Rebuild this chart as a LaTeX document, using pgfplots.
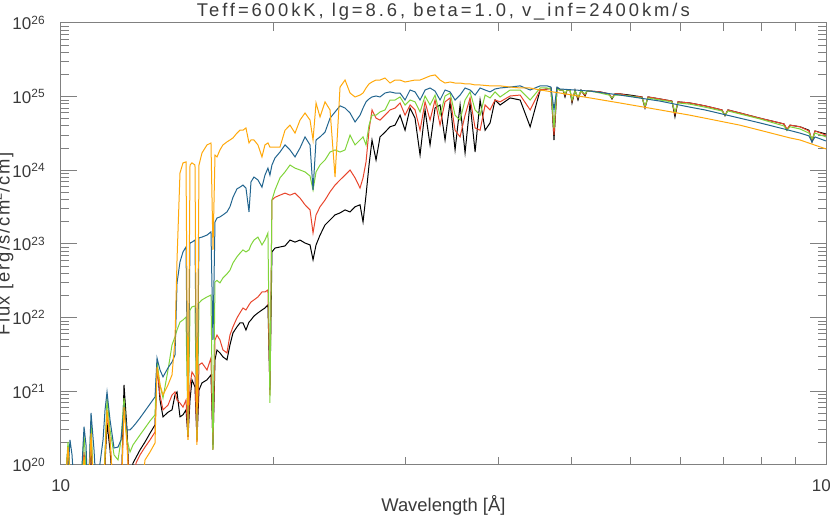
\documentclass[border=0pt]{standalone}
\usepackage{fontspec}
\setmainfont{Liberation Sans}
\usepackage{pgfplots}
\usepackage{pgfplotstable}
\pgfplotsset{compat=1.18}

\definecolor{cblue}{HTML}{22658F}
\definecolor{cred}{HTML}{E8452C}
\definecolor{cgreen}{HTML}{80D43A}
\definecolor{corange}{HTML}{FFA80A}
\definecolor{axgray}{HTML}{808080}
\definecolor{txtgray}{HTML}{3A3A3A}

% flux spectra, wavelength in Angstrom, flux in erg/s/cm2/cm
\pgfplotstableread{
lam F
10.345 3e19
10.473 3e19
10.603 1.75e20
10.735 3e19
11.003 3e19
11.140 1.37e20
11.278 3e19
11.383 1.75e20
11.488 3e19
11.812 3e19
11.958 3.7e20
12.069 1.6e20
12.219 3e19
12.485 3e19
12.601 1.22e21
12.718 3.0e20
12.836 3e19
12.955 1.06e20
13.238 1.6e20
13.444 2.05e20
13.653 2.7e20
13.865 3.5e20
13.951 2.43e21
14.080 7.6e20
14.211 4.5e20
14.432 5.2e20
14.611 5.6e20
14.746 8.9e20
14.838 9.8e20
14.975 4.5e20
15.114 4.8e20
15.255 5.6e20
15.349 2.4e20
15.444 7.6e20
15.539 1.43e21
15.683 1.15e21
15.780 2.19e20
15.878 1.04e21
16.025 1.30e21
16.274 1.43e21
16.476 1.67e21
16.578 1.87e20
16.681 2.67e21
16.784 3.64e21
16.938 3.32e21
17.096 2.93e21
17.308 2.67e21
17.469 4.26e21
17.631 6.2e21
17.850 7.5e21
18.016 8.47e21
18.184 8.47e21
18.353 6.8e21
18.524 8.7e21
18.638 9.3e21
18.811 1.05e22
19.044 1.16e22
19.280 1.27e22
19.460 1.35e22
19.641 1.49e22
19.762 1.04e21
19.884 7.8e22
20.069 8.8e22
20.381 9.1e22
20.698 9.4e22
21.020 1.13e23
21.347 1.06e23
21.679 1.13e23
22.016 1.03e23
22.358 9.7e22
22.566 6.1e22
22.776 9.7e22
23.058 1.32e23
23.416 1.81e23
23.780 2.12e23
24.150 2.48e23
24.525 2.64e23
24.906 2.9e23
25.293 2.72e23
25.686 3.2e23
26.085 3.4e23
26.327 1.99e23
26.571 4.6e23
26.818 1.18e24
27.067 2.58e24
27.403 1.38e24
27.743 2.84e24
28.174 3.3e24
28.612 3.9e24
29.057 4.1e24
29.509 5.6e24
29.967 3.5e24
30.433 7.0e24
30.906 5.1e24
31.386 1.61e24
31.874 6.6e24
32.370 2.21e24
32.873 7.0e24
33.384 7.7e24
33.903 2.58e24
34.430 8.5e24
34.965 1.89e24
35.509 7.7e24
36.061 1.72e24
36.621 8.2e24
37.191 1.77e24
37.769 9.0e24
38.356 3.5e24
38.952 4.4e24
39.557 9.0e24
40.172 7.7e24
41.431 9.6e24
42.730 9.0e24
44.069 3.9e24
45.451 1.23e25
46.416 1.27e25
46.99 1.31e25
47.428 2.58e24
47.87 1.31e25
48.314 1.23e25
48.765 1.23e25
49.065 9.9e24
49.370 1.23e25
49.829 1.23e25
50.137 8.2e24
50.604 1.23e25
51.073 9.0e24
51.546 1.23e25
52.187 1.02e25
52.508 1.19e25
52.998 1.19e25
54.659 1.16e25
56.195 1.09e25
56.715 9.3e24
57.240 1.09e25
58.130 1.09e25
59.948 1.05e25
62.211 9.9e24
62.787 7.0e24
63.370 9.9e24
65.756 9.3e24
68.234 8.7e24
68.866 5.3e24
69.508 8.5e24
72.122 8.2e24
75.533 7.5e24
79.599 6.6e24
80.336 5.5e24
81.077 6.6e24
84.139 6.0e24
89.47 5.1e24
96.37 4.26e24
97.26 3.5e24
98.17 4.1e24
101.24 3.9e24
104.09 3.5e24
105.06 2.43e24
106.03 3.42e24
109.69 3.11e24
}\tblk

\pgfplotstableread{
lam F
10.345 3e19
10.473 3e19
10.603 1.6e20
10.735 3e19
11.003 3e19
11.140 1.5e20
11.278 3e19
11.383 2.19e20
11.488 3e19
11.812 3e19
11.958 5.2e20
12.069 2.19e20
12.219 3e19
12.485 3e19
12.601 6.95e20
12.718 2.19e20
12.836 3e19
12.955 3e19
13.076 1.06e20
13.238 1.37e20
13.444 1.75e20
13.653 2.19e20
13.865 2.8e20
13.951 2.14e21
14.080 8.9e20
14.211 5.6e20
14.432 6.5e20
14.611 8.9e20
14.746 9.8e20
14.838 7.6e20
14.975 6.95e20
15.114 6.1e20
15.255 7.6e20
15.349 2.4e20
15.444 1.22e21
15.539 1.83e21
15.683 1.57e21
15.780 2.05e20
15.878 2.28e21
16.025 2.43e21
16.274 1.95e21
16.476 2.83e21
16.578 1.6e20
16.681 4.98e21
16.784 5.8e21
16.938 4.98e21
17.096 3.64e21
17.308 3.32e21
17.469 5.8e21
17.631 7.5e21
17.850 9.9e21
18.016 1.16e22
18.184 1.35e22
18.353 1.27e22
18.524 1.49e22
18.638 1.63e22
18.811 1.74e22
19.044 1.91e22
19.280 2.23e22
19.460 2.23e22
19.641 2.38e22
19.762 8.9e20
19.884 3.95e23
20.069 4.3e23
20.381 4.6e23
20.698 4.9e23
21.020 4.6e23
21.347 4.9e23
21.679 4.2e23
22.016 3.4e23
22.358 2.9e23
22.566 1.41e23
22.776 2.48e23
23.058 3.2e23
23.416 3.95e23
23.780 5.1e23
24.150 6.3e23
24.525 7.4e23
24.906 8.6e23
25.293 1.01e24
25.686 7.9e23
26.085 5.75e23
26.327 7.9e23
26.571 1.30e24
26.818 3.5e24
27.067 6.6e24
27.403 5.1e24
27.743 4.8e24
28.174 5.6e24
28.612 6.6e24
29.057 7.0e24
29.509 8.2e24
29.967 5.6e24
30.433 7.7e24
30.906 6.6e24
31.386 3.5e24
31.874 8.5e24
32.370 4.8e24
32.873 9.0e24
33.384 4.1e24
33.903 8.5e24
34.430 9.6e24
34.965 3.5e24
35.509 2.84e24
36.061 5.6e24
36.621 9.6e24
37.191 3.76e24
37.769 3.5e24
38.356 7.7e24
38.952 6.6e24
39.557 9.0e24
40.172 8.5e24
41.431 1.02e25
42.730 1.05e25
44.069 6.6e24
45.451 1.23e25
46.416 1.27e25
46.99 1.27e25
47.428 3.0e24
47.87 1.27e25
48.314 1.23e25
48.765 1.23e25
49.065 1.05e25
49.370 1.23e25
49.829 1.23e25
50.137 8.7e24
50.604 1.19e25
51.073 9.6e24
51.546 1.19e25
52.187 1.05e25
52.508 1.19e25
52.998 1.19e25
54.659 1.16e25
56.195 1.09e25
56.715 9.6e24
57.240 1.09e25
58.130 1.09e25
59.948 1.02e25
62.211 9.9e24
62.787 7.2e24
63.370 9.9e24
65.756 9.3e24
68.234 8.7e24
68.866 5.82e24
69.508 8.5e24
72.122 8.2e24
75.533 7.5e24
79.599 6.6e24
80.336 5.6e24
81.077 6.6e24
84.139 6.0e24
89.47 5.1e24
96.37 4.26e24
97.26 3.64e24
98.17 4.1e24
101.24 3.9e24
104.09 3.42e24
105.06 2.58e24
106.03 3.42e24
109.69 3.0e24
}\tred

\pgfplotstableread{
lam F
10.345 3e19
10.473 3e19
10.603 2.05e20
10.735 3e19
11.003 3e19
11.140 2.56e20
11.278 3e19
11.383 4.1e20
11.488 3e19
11.812 3e19
11.958 8.1e20
12.069 3.0e20
12.219 1.37e20
12.370 1.17e20
12.485 2.19e20
12.601 8.1e20
12.718 2.19e20
12.836 1.5e20
12.955 1.87e20
13.238 2.56e20
13.444 3.18e20
13.653 3.96e20
13.865 4.8e20
13.951 2.5e21
14.080 1.22e21
14.211 8.1e20
14.432 1.95e21
14.611 4.26e21
14.746 5.5e21
14.838 6.8e21
14.975 8.7e21
15.114 9.3e21
15.255 1.02e22
15.349 2.56e20
15.444 1.27e22
15.539 1.40e22
15.683 1.44e22
15.780 2.19e20
15.878 1.58e22
16.025 1.74e22
16.274 1.91e22
16.476 2.03e22
16.578 1.6e20
16.681 3.05e22
16.784 3.2e22
16.938 2.96e22
17.096 3.46e22
17.308 3.92e22
17.469 4.4e22
17.631 5.52e22
17.850 6.7e22
18.016 7.5e22
18.184 8.3e22
18.353 7.8e22
18.524 8.3e22
18.638 9.7e22
18.811 1.13e23
19.044 1.24e23
19.280 9.7e22
19.460 1.13e23
19.641 1.41e23
19.762 6.95e20
19.884 3.95e23
20.069 5.4e23
20.381 7.9e23
20.698 9.5e23
21.020 1.18e24
21.347 1.07e24
21.679 1.01e24
22.016 9.5e23
22.358 8.38e23
22.566 5.4e23
22.776 9.5e23
23.058 1.18e24
23.416 1.38e24
23.780 1.77e24
24.150 1.89e24
24.525 1.77e24
24.906 1.89e24
25.293 3.0e24
25.686 2.21e24
26.085 2.58e24
26.327 2.84e24
26.571 2.21e24
26.818 4.1e24
27.067 5.6e24
27.403 5.6e24
27.743 6.19e24
28.174 6.6e24
28.612 9.0e24
29.057 9.0e24
29.509 9.9e24
29.967 7.7e24
30.433 9.0e24
30.906 8.5e24
31.386 6.19e24
31.874 1.02e25
32.370 7.7e24
32.873 1.05e25
33.384 5.6e24
33.903 1.02e25
34.430 1.12e25
34.965 5.6e24
35.509 4.8e24
36.061 9.0e24
36.621 1.16e25
37.191 6.6e24
37.769 5.6e24
38.356 1.05e25
38.952 9.6e24
39.557 1.16e25
40.172 9.9e24
41.431 1.23e25
42.730 1.23e25
44.069 9.0e24
45.451 1.31e25
46.416 1.31e25
46.99 1.27e25
47.428 3.76e24
47.87 1.27e25
48.314 1.23e25
48.765 1.23e25
49.065 1.09e25
49.370 1.23e25
49.829 1.23e25
50.137 9.0e24
50.604 1.19e25
51.073 9.9e24
51.546 1.19e25
52.187 1.09e25
52.508 1.19e25
52.998 1.19e25
54.659 1.12e25
56.195 1.05e25
56.715 9.6e24
57.240 1.05e25
58.130 1.05e25
59.948 1.02e25
62.211 9.6e24
62.787 7.5e24
63.370 9.6e24
65.756 9.0e24
68.234 8.5e24
68.866 6.19e24
69.508 8.2e24
72.122 7.9e24
75.533 7.2e24
79.599 6.39e24
80.336 5.6e24
81.077 6.39e24
84.139 5.82e24
89.47 4.98e24
96.37 4.0e24
97.26 3.5e24
98.17 3.9e24
101.24 3.64e24
104.09 3.2e24
105.06 2.66e24
106.03 3.2e24
109.69 2.84e24
}\tgrn

\pgfplotstableread{
lam F
10.345 3e19
10.538 3e19
10.668 2.19e20
10.735 1.37e20
10.834 3e19
11.003 3e19
11.140 3.3e20
11.209 1.87e20
11.278 3e19
11.383 5.1e20
11.488 1.6e20
11.595 3e19
11.703 1.06e20
11.812 2.19e20
11.885 5.6e20
11.958 9.8e20
12.069 4.1e20
12.219 1.7e20
12.370 1.75e20
12.485 2.19e20
12.601 6.1e20
12.718 3.0e20
12.836 3.0e20
12.955 3.3e20
13.076 3.7e20
13.238 4.35e20
13.444 5.41e20
13.653 6.74e20
13.865 8.4e20
13.951 2.83e21
14.080 1.95e21
14.211 1.57e21
14.432 2.08e21
14.611 2.5e21
14.746 3.11e21
14.838 2.96e22
14.975 5.7e22
15.114 7.8e22
15.255 9.1e22
15.349 4.1e20
15.444 1.03e23
15.539 1.06e23
15.683 1.13e23
15.780 3.0e20
15.878 1.21e23
16.025 1.24e23
16.274 1.32e23
16.476 1.46e23
16.578 4.98e21
16.681 1.99e23
16.784 2.25e23
16.938 2.33e23
17.096 2.48e23
17.308 2.72e23
17.469 3.2e23
17.631 4.3e23
17.850 5.6e23
18.016 5.9e23
18.184 6.3e23
18.353 5.75e23
18.524 2.72e23
18.638 6.95e23
18.811 8.1e23
19.044 7.4e23
19.280 5.9e23
19.460 8.6e23
19.641 1.07e24
19.762 8.6e23
19.884 1.18e24
20.069 1.47e24
20.381 1.77e24
20.698 2.21e24
21.020 1.89e24
21.347 1.52e24
21.679 2.01e24
22.016 2.84e24
22.358 2.21e24
22.566 5.4e23
22.776 2.58e24
23.058 2.84e24
23.416 3.3e24
23.780 5.1e24
24.150 6.19e24
24.525 7.5e24
24.906 7.0e24
25.293 6.0e24
25.686 4.53e24
26.085 5.6e24
26.327 7.0e24
26.571 8.5e24
26.818 9.3e24
27.067 9.9e24
27.403 1.02e25
27.743 9.9e24
28.174 1.12e25
28.612 1.16e25
29.057 1.12e25
29.509 1.12e25
29.967 9.0e24
30.433 1.23e25
30.906 1.16e25
31.386 9.0e24
31.874 1.23e25
32.370 1.31e25
32.873 1.19e25
33.384 9.0e24
33.903 1.23e25
34.430 1.16e25
34.965 9.0e24
35.509 1.05e25
36.061 1.31e25
36.621 1.23e25
37.191 1.05e25
37.769 1.31e25
38.356 1.23e25
38.952 1.16e25
39.557 1.27e25
40.172 1.31e25
41.431 1.35e25
42.730 1.40e25
44.069 1.23e25
45.451 1.40e25
46.416 1.40e25
46.99 1.35e25
47.428 6.6e24
47.87 1.35e25
48.314 1.27e25
52.998 1.19e25
58.130 1.05e25
65.756 8.7e24
72.122 7.2e24
75.533 6.6e24
84.139 5.1e24
89.47 4.4e24
96.37 3.64e24
101.24 3.2e24
104.09 2.93e24
105.06 2.43e24
106.03 2.84e24
109.69 2.5e24
}\tblu

\pgfplotstableread{
lam F
10.345 3e19
10.473 3e19
10.603 1.75e20
10.735 3e19
11.003 3e19
11.140 1.28e20
11.278 3e19
11.383 2.7e20
11.488 3e19
11.812 3e19
11.958 5.6e20
12.069 2.19e20
12.219 3e19
12.485 3e19
12.601 6.1e20
12.718 1.87e20
12.836 3e19
13.238 3e19
13.444 1.17e20
13.653 1.5e20
13.865 1.99e20
13.951 2.14e21
14.080 1.22e21
14.211 8.9e20
14.432 1.22e21
14.611 1.67e21
14.746 4.98e21
14.838 6.1e22
14.975 9.2e23
15.114 1.26e24
15.255 1.30e24
15.349 2.19e20
15.444 1.18e24
15.539 1.26e24
15.683 1.18e24
15.780 1.87e20
15.878 1.18e24
16.025 1.72e24
16.274 2.21e24
16.476 2.35e24
16.578 8.3e22
16.681 1.61e24
16.784 1.52e24
16.938 1.89e24
17.096 2.21e24
17.308 2.43e24
17.469 2.58e24
17.631 2.75e24
17.850 3.2e24
18.016 3.5e24
18.184 3.5e24
18.353 3.76e24
18.524 2.35e24
18.638 2.58e24
18.811 2.58e24
19.044 2.21e24
19.280 1.52e24
19.460 2.21e24
19.641 2.35e24
19.762 2.07e24
19.884 2.07e24
20.069 2.07e24
20.381 2.07e24
20.698 3.5e24
21.020 4.1e24
21.347 3.2e24
21.679 4.8e24
22.016 6.0e24
22.358 4.8e24
22.566 2.58e24
22.776 8.2e24
23.058 5.3e24
23.416 8.5e24
23.780 6.6e24
24.150 8.1e23
24.525 1.35e25
24.906 1.68e25
25.293 1.12e25
25.686 9.9e24
26.085 1.05e25
26.327 1.12e25
26.571 1.31e25
26.818 1.49e25
27.067 1.58e25
27.403 1.68e25
27.743 1.68e25
28.174 1.79e25
28.612 1.53e25
29.057 1.68e25
29.509 1.68e25
29.967 1.58e25
30.433 1.63e25
30.906 1.68e25
31.386 1.68e25
31.874 1.79e25
32.370 1.91e25
32.873 1.97e25
33.384 1.68e25
33.903 1.53e25
34.430 1.58e25
34.965 1.53e25
35.509 1.53e25
36.061 1.49e25
36.621 1.49e25
37.191 1.44e25
37.769 1.44e25
38.952 1.40e25
40.172 1.40e25
41.431 1.35e25
42.730 1.31e25
44.069 1.31e25
45.451 1.23e25
48.314 1.12e25
52.998 9.6e24
58.130 8.2e24
65.756 6.6e24
72.122 5.6e24
84.139 4.1e24
89.47 3.5e24
98.17 2.75e24
101.24 2.58e24
109.69 1.95e24
}\torg

\begin{document}
\begin{tikzpicture}
\path[use as bounding box] (-30.35pt,-28.5pt) rectangle (384.65pt,232.5pt);
\begin{axis}[
    at={(0pt,0pt)}, anchor=south west,
    scale only axis,
    width=382.65pt, height=221pt,
    xmode=log, ymode=log,
    xmin=10.367, xmax=109.7,
    ymin=1e20, ymax=1e26,
    xtick={10.367,109.7},
    xticklabels={10,100},
    minor xtick={20,30,40,50,60,70,80,90,100},
    ytick={1e20,1e21,1e22,1e23,1e24,1e25,1e26},
    yticklabels={10\textsuperscript{20},10\textsuperscript{21},10\textsuperscript{22},10\textsuperscript{23},10\textsuperscript{24},10\textsuperscript{25},10\textsuperscript{26}},
    minor ytick={2e20,3e20,4e20,5e20,6e20,7e20,8e20,9e20,
                 2e21,3e21,4e21,5e21,6e21,7e21,8e21,9e21,
                 2e22,3e22,4e22,5e22,6e22,7e22,8e22,9e22,
                 2e23,3e23,4e23,5e23,6e23,7e23,8e23,9e23,
                 2e24,3e24,4e24,5e24,6e24,7e24,8e24,9e24,
                 2e25,3e25,4e25,5e25,6e25,7e25,8e25,9e25},
    tick align=inside,
    major tick length=8pt,
    minor tick length=4pt,
    axis line style={axgray, line width=0.5pt},
    tick style={axgray, line width=0.5pt},
    tick label style={txtgray, font=\fontsize{8.5}{10}\selectfont},
    xticklabel style={yshift=-3.7pt},
    yticklabel style={xshift=-4pt},
    title={Teff=600kK, lg=8.6, beta=1.0, v\_inf=2400km/s},
    title style={at={(axis description cs:0.5,1.0136)}, anchor=base, yshift=-6pt, txtgray,
        font=\fontsize{9.2}{11}\selectfont\addfontfeature{LetterSpace=16}},
    xlabel={Wavelength [Å]},
    xlabel style={at={(axis description cs:0.5,-0.1063)}, anchor=base, txtgray,
        font=\fontsize{9.2}{11}\selectfont},
    ylabel={Flux [erg/s/cm\textsuperscript{2}/cm]},
    ylabel style={at={(axis description cs:-0.0669,0.5)}, anchor=base, txtgray,
        font=\fontsize{9.2}{11}\selectfont\addfontfeature{LetterSpace=9}},
    no markers,
    every axis plot/.append style={line width=0.5pt},
]
\addplot[black] table[x=lam, y=F] {\tblk};
\addplot[cred] table[x=lam, y=F] {\tred};
\addplot[cgreen] table[x=lam, y=F] {\tgrn};
\addplot[cblue] table[x=lam, y=F] {\tblu};
\addplot[corange] table[x=lam, y=F] {\torg};
\end{axis}
\end{tikzpicture}
\end{document}
